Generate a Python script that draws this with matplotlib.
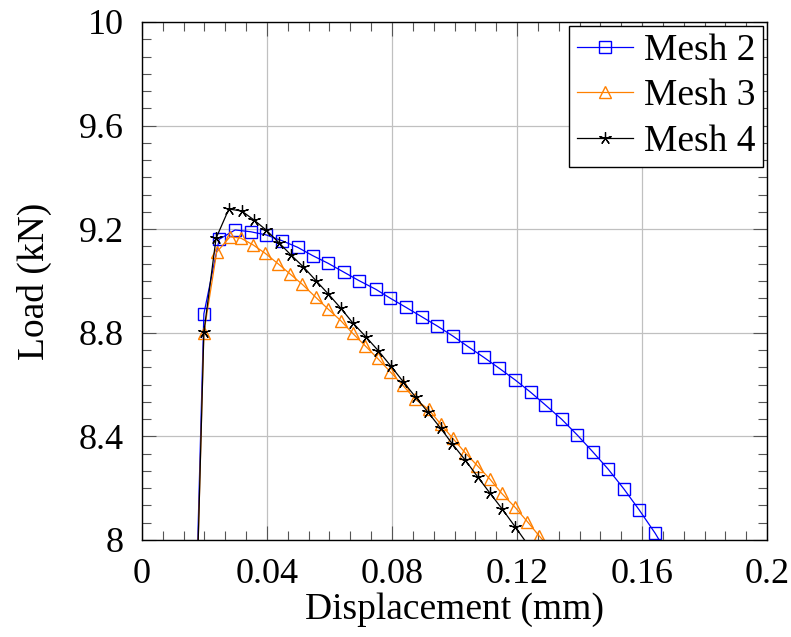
import matplotlib
matplotlib.use('Agg')
import matplotlib.pyplot as plt
from matplotlib.ticker import AutoMinorLocator

plt.rcParams['font.family'] = ['Liberation Serif', 'DejaVu Serif']

# Mesh 2 (squares)
mesh2_x = [0.0, 0.0198, 0.0247, 0.0298, 0.0348, 0.0397, 0.0447, 0.0498, 0.0546, 0.0596,
           0.0646, 0.0695, 0.0748, 0.0795, 0.0845, 0.0895, 0.0945, 0.0994, 0.1044,
           0.1094, 0.1143, 0.1194, 0.1244, 0.1291, 0.1343, 0.1393, 0.1442, 0.1492,
           0.1542, 0.1591, 0.1642, 0.1692]
mesh2_y = [0.0, 8.873, 9.161, 9.197, 9.190, 9.178, 9.156, 9.130, 9.098, 9.068,
           9.034, 9.001, 8.968, 8.933, 8.898, 8.862, 8.826, 8.788, 8.746,
           8.705, 8.663, 8.618, 8.570, 8.521, 8.466, 8.405, 8.341, 8.273,
           8.197, 8.116, 8.026, 7.925]

# Mesh 3 (triangles)
mesh3_x = [0.0, 0.0198, 0.0239, 0.0282, 0.0317, 0.0356, 0.0394, 0.0436, 0.0474, 0.0513,
           0.0556, 0.0596, 0.0636, 0.0674, 0.0714, 0.0754, 0.0794, 0.0834, 0.0874,
           0.0917, 0.0956, 0.0994, 0.1034, 0.1073, 0.1114, 0.1151, 0.1194, 0.1233,
           0.1270, 0.1310]
mesh3_y = [0.0, 8.800, 9.111, 9.171, 9.165, 9.139, 9.107, 9.066, 9.027, 8.987,
           8.937, 8.891, 8.847, 8.798, 8.750, 8.701, 8.650, 8.598, 8.544,
           8.504, 8.447, 8.393, 8.337, 8.287, 8.234, 8.180, 8.126, 8.071,
           8.017, 7.963]

# Mesh 4 (stars)
mesh4_x = [0.0, 0.0198, 0.0237, 0.0278, 0.0319, 0.0358, 0.0397, 0.0438, 0.0477, 0.0516,
           0.0557, 0.0596, 0.0636, 0.0674, 0.0716, 0.0756, 0.0796, 0.0836, 0.0876,
           0.0914, 0.0956, 0.0993, 0.1034, 0.1074, 0.1114, 0.1153, 0.1194, 0.1234]
mesh4_y = [0.0, 8.802, 9.165, 9.278, 9.270, 9.236, 9.197, 9.148, 9.100, 9.055,
           9.001, 8.950, 8.895, 8.839, 8.785, 8.731, 8.672, 8.611, 8.551,
           8.495, 8.431, 8.371, 8.309, 8.244, 8.180, 8.119, 8.051, 7.983]

xtick_vals = [0, 0.04, 0.08, 0.12, 0.16, 0.2]
xtick_labels = ['0', '0.04', '0.08', '0.12', '0.16', '0.2']
ytick_vals = [8, 8.4, 8.8, 9.2, 9.6, 10]
ytick_labels = ['8', '8.4', '8.8', '9.2', '9.6', '10']

fig = plt.figure(figsize=(7.91, 6.37), dpi=100)
ax = fig.add_axes([0.1795, 0.1523, 0.7902, 0.8132])

# first and last points lie outside the axes, so no markers there
ax.plot(mesh2_x, mesh2_y, color='#0000ff', lw=0.9, marker='s', markersize=8.3,
        markerfacecolor='none', markeredgewidth=1.0, markevery=slice(1, len(mesh2_x) - 1),
        label='Mesh 2')
ax.plot(mesh3_x, mesh3_y, color='#ff8000', lw=0.9, marker='^', markersize=8.5,
        markerfacecolor='none', markeredgewidth=1.0, markevery=slice(1, len(mesh3_x) - 1),
        label='Mesh 3')
ax.plot(mesh4_x, mesh4_y, color='black', lw=0.9, marker=(5, 2, 0), markersize=9,
        markeredgewidth=0.9, markevery=slice(1, len(mesh4_x) - 1),
        label='Mesh 4')

ax.set_xlim(0, 0.2)
ax.set_ylim(8, 10)
ax.set_xticks(xtick_vals)
ax.set_xticklabels(xtick_labels)
ax.set_yticks(ytick_vals)
ax.set_yticklabels(ytick_labels)
ax.xaxis.set_minor_locator(AutoMinorLocator(6))
ax.yaxis.set_minor_locator(AutoMinorLocator(6))

ax.grid(True, which='major', color='#c0c0c0', lw=0.9)
ax.set_axisbelow(True)
ax.tick_params(which='both', direction='in', top=True, right=True, color='#555555', width=0.8)
ax.tick_params(which='major', length=10, labelsize=26)
ax.tick_params(which='minor', length=6.5)
ax.tick_params(axis='x', pad=13)
ax.tick_params(axis='y', pad=13)
for s in ax.spines.values():
    s.set_linewidth(1.0)

ax.set_xlabel('Displacement (mm)', fontsize=27, labelpad=1)
ax.set_ylabel('Load (kN)', fontsize=27, labelpad=19)

leg = ax.legend(loc='upper right', fontsize=27, frameon=True, fancybox=False,
                edgecolor='black', framealpha=1, borderaxespad=0.1, handlelength=1.5,
                handletextpad=0.3, labelspacing=0.3, borderpad=0.2)
leg.get_frame().set_linewidth(1.0)

plt.savefig('out.png', dpi=100)
